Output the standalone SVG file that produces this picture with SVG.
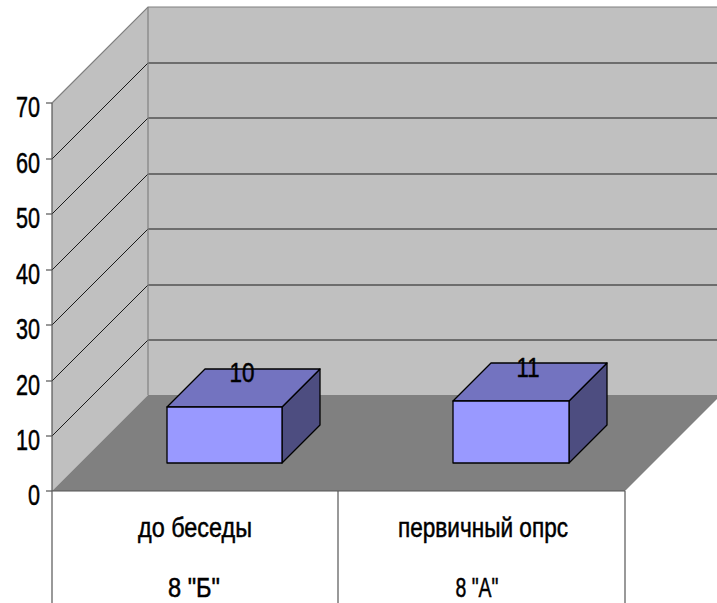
<svg xmlns="http://www.w3.org/2000/svg" width="717" height="603" viewBox="0 0 717 603">
<style>
.wall{fill:#C0C0C0;stroke:none}
.edge{stroke:#808080;stroke-width:1.2;fill:none}
.grid{stroke:#1a1a1a;stroke-width:1;fill:none}
.axis{stroke:#555;stroke-width:1.2;fill:none}
.front{fill:#9999FF;stroke:#000;stroke-width:1.3;stroke-linejoin:round}
.top{fill:#7373C0;stroke:#000;stroke-width:1.3;stroke-linejoin:round}
.side{fill:#4D4D80;stroke:#000;stroke-width:1.3;stroke-linejoin:round}
text{font-family:"Liberation Sans",Arial,sans-serif;fill:#000;stroke:#000;stroke-width:0.5}
.ax{font-size:29px;text-anchor:end}
.cat{font-size:28px;text-anchor:middle}
.val{font-size:28px;text-anchor:middle}
</style>
<rect x="0" y="0" width="717" height="603" fill="#fff"/>
<g id="walls">
<rect class="wall" x="148" y="7" width="569" height="388"/>
<polygon class="wall" points="52,103 148,7 148,395 52,491"/>
<polygon fill="#808080" points="52,491 148,395 721,395 625,491"/>
</g>
<g id="gridlines">
<g class="grid">
<line x1="148" y1="63" x2="717" y2="63"/>
<line x1="148" y1="118" x2="717" y2="118"/>
<line x1="148" y1="174" x2="717" y2="174"/>
<line x1="148" y1="229" x2="717" y2="229"/>
<line x1="148" y1="285" x2="717" y2="285"/>
<line x1="148" y1="340" x2="717" y2="340"/>
<line x1="52" y1="159" x2="148" y2="63"/>
<line x1="52" y1="214" x2="148" y2="118"/>
<line x1="52" y1="270" x2="148" y2="174"/>
<line x1="52" y1="325" x2="148" y2="229"/>
<line x1="52" y1="381" x2="148" y2="285"/>
<line x1="52" y1="436" x2="148" y2="340"/>
</g>
<polyline class="edge" points="52,103 148,7 717,7"/>
<line class="edge" x1="148" y1="7" x2="148" y2="395"/>
</g>
<g id="axes">
<line class="axis" x1="52" y1="103" x2="52" y2="603"/>
<line class="axis" x1="52" y1="491" x2="625" y2="491"/>
<line class="axis" x1="338" y1="491" x2="338" y2="603"/>
<line class="axis" x1="625" y1="491" x2="625" y2="603"/>
<g class="axis">
<line x1="46" y1="103" x2="52" y2="103"/>
<line x1="46" y1="159" x2="52" y2="159"/>
<line x1="46" y1="214" x2="52" y2="214"/>
<line x1="46" y1="270" x2="52" y2="270"/>
<line x1="46" y1="325" x2="52" y2="325"/>
<line x1="46" y1="381" x2="52" y2="381"/>
<line x1="46" y1="436" x2="52" y2="436"/>
<line x1="46" y1="491" x2="52" y2="491"/>
</g>
<text class="ax" x="40" y="117" textLength="24" lengthAdjust="spacingAndGlyphs">70</text>
<text class="ax" x="40" y="173" textLength="24" lengthAdjust="spacingAndGlyphs">60</text>
<text class="ax" x="40" y="228" textLength="24" lengthAdjust="spacingAndGlyphs">50</text>
<text class="ax" x="40" y="284" textLength="24" lengthAdjust="spacingAndGlyphs">40</text>
<text class="ax" x="40" y="339" textLength="24" lengthAdjust="spacingAndGlyphs">30</text>
<text class="ax" x="40" y="395" textLength="24" lengthAdjust="spacingAndGlyphs">20</text>
<text class="ax" x="40" y="450" textLength="24" lengthAdjust="spacingAndGlyphs">10</text>
<text class="ax" x="40" y="505" textLength="12" lengthAdjust="spacingAndGlyphs">0</text>
</g>
<g id="bar1">
<polygon class="side" points="282,407 320,369 320,425 282,463"/>
<polygon class="top" points="167,407 205,369 320,369 282,407"/>
<rect class="front" x="167" y="407" width="115" height="56"/>
<text class="val" x="242" y="382" textLength="25" lengthAdjust="spacingAndGlyphs">10</text>
</g>
<g id="bar2">
<polygon class="side" points="569,401 607,363 607,425 569,463"/>
<polygon class="top" points="453,401 491,363 607,363 569,401"/>
<rect class="front" x="453" y="401" width="116" height="62"/>
<text class="val" x="528" y="377" textLength="23" lengthAdjust="spacingAndGlyphs">11</text>
</g>
<g id="cat1">
<text class="cat" x="195" y="537" textLength="114" lengthAdjust="spacingAndGlyphs">до беседы</text>
<text class="cat" x="194" y="597" textLength="52" lengthAdjust="spacingAndGlyphs">8 "Б"</text>
</g>
<g id="cat2">
<text class="cat" x="483" y="537" textLength="170" lengthAdjust="spacingAndGlyphs">первичный опрс</text>
<text class="cat" x="477" y="597" textLength="43" lengthAdjust="spacingAndGlyphs">8 "А"</text>
</g>
</svg>
